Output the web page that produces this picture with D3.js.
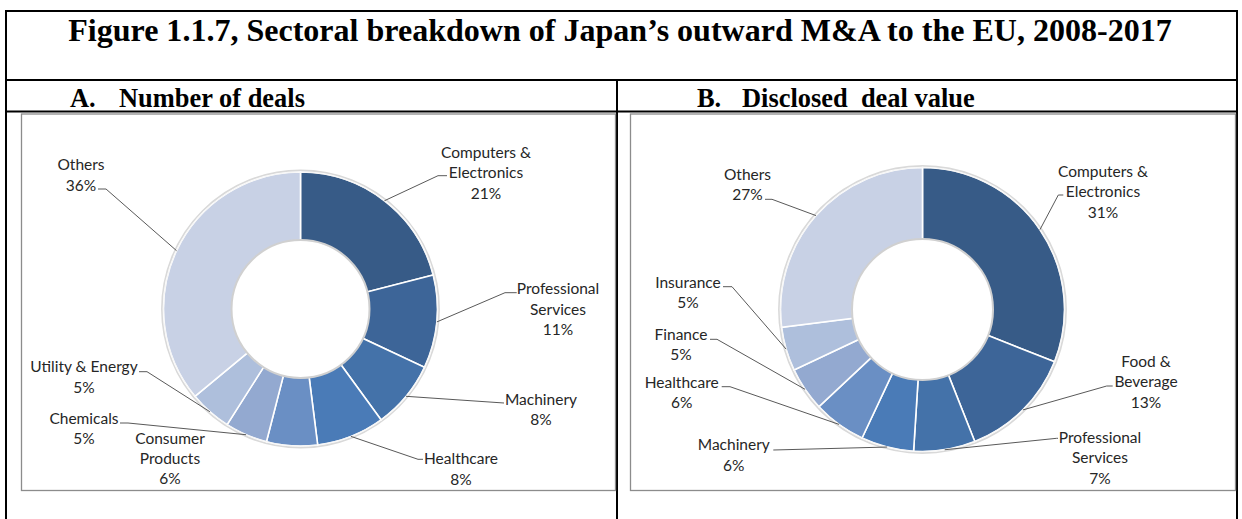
<!DOCTYPE html>
<html>
<head>
<meta charset="utf-8">
<script src="https://cdn.jsdelivr.net/npm/d3@7"></script>
<style>
  body { margin: 0; background: #fff; }
  svg { display: block; }
</style>
</head>
<body>
<div id="chart"></div>
<script>
// data
const categoriesA = ["Computers & Electronics", "Professional Services", "Machinery", "Healthcare",
  "Consumer Products", "Chemicals", "Utility & Energy", "Others"];
const valuesA = [21, 11, 8, 8, 6, 5, 5, 36];

const categoriesB = ["Computers & Electronics", "Food & Beverage", "Professional Services", "Machinery",
  "Healthcare", "Finance", "Insurance", "Others"];
const valuesB = [31, 13, 7, 6, 6, 5, 5, 27];

// one shade per slice position, dark to light
const palette = ["#375b87", "#3d6598", "#4472a9", "#4a7bb7", "#6a8fc4", "#93a9d0", "#aebfdc", "#c8d1e5"];

// label layout: line break text, label centre, elbow and end of leader line
const labelsA = {
  "Computers & Electronics": { lines: ["Computers &", "Electronics"], x: 486, y: 152.7, elbow: [438, 175.7], end: [447, 175.7] },
  "Professional Services": { lines: ["Professional", "Services"], x: 558, y: 289, elbow: [505, 292.7], end: [516.7, 292.7] },
  "Machinery": { lines: ["Machinery"], x: 541, y: 399.3, elbow: [504, 403], end: [504, 403] },
  "Healthcare": { lines: ["Healthcare"], x: 461, y: 459, elbow: [418, 459.3], end: [423, 459.3] },
  "Consumer Products": { lines: ["Consumer", "Products"], x: 170, y: 438.3, elbow: null },
  "Chemicals": { lines: ["Chemicals"], x: 84, y: 418.3, elbow: [128, 423], end: [120, 423] },
  "Utility & Energy": { lines: ["Utility & Energy"], x: 84, y: 367, elbow: [147, 371.7], end: [139, 371.7] },
  "Others": { lines: ["Others"], x: 81, y: 165, elbow: [106, 189], end: [98, 189] }
};
const labelsB = {
  "Computers & Electronics": { lines: ["Computers &", "Electronics"], x: 1103, y: 171.7, elbow: [1058.3, 195], end: [1063.3, 195] },
  "Food & Beverage": { lines: ["Food &", "Beverage"], x: 1146, y: 361.7, elbow: [1106.7, 386], end: [1112.7, 386] },
  "Professional Services": { lines: ["Professional", "Services"], x: 1100, y: 437.7, elbow: [1056.7, 438.3], end: [1058, 438.3] },
  "Machinery": { lines: ["Machinery"], x: 733.8, y: 445, elbow: [773.3, 450], end: [773.3, 450] },
  "Healthcare": { lines: ["Healthcare"], x: 681.7, y: 382.7, elbow: [730, 386.7], end: [721.7, 386.7] },
  "Finance": { lines: ["Finance"], x: 681, y: 334.3, elbow: [717, 339.3], end: [710, 339.3] },
  "Insurance": { lines: ["Insurance"], x: 688, y: 282.3, elbow: [732, 286.7], end: [723, 286.7] },
  "Others": { lines: ["Others"], x: 747.5, y: 174.3, elbow: [772, 199.3], end: [765, 199.3] }
};

const W = 1242, H = 519;
const svg = d3.select("#chart").append("svg").attr("width", W).attr("height", H);

// table grid
const black = svg.append("g").attr("stroke", "#000").attr("stroke-width", 2).attr("fill", "none");
black.append("line").attr("x1", 5).attr("x2", 1238).attr("y1", 11).attr("y2", 11);
black.append("line").attr("x1", 5).attr("x2", 1238).attr("y1", 80).attr("y2", 80);
black.append("line").attr("x1", 5).attr("x2", 1238).attr("y1", 111.5).attr("y2", 111.5);
black.append("line").attr("x1", 6).attr("x2", 6).attr("y1", 10).attr("y2", H);
black.append("line").attr("x1", 1237).attr("x2", 1237).attr("y1", 10).attr("y2", H);
black.append("line").attr("x1", 617).attr("x2", 617).attr("y1", 80).attr("y2", H);

// grey chart frames
svg.append("rect").attr("x", 21.5).attr("y", 114).attr("width", 594).attr("height", 376.5)
  .attr("fill", "none").attr("stroke", "#8c8c8c").attr("stroke-width", 1.3);
svg.append("rect").attr("x", 630.5).attr("y", 114).attr("width", 605).attr("height", 376.5)
  .attr("fill", "none").attr("stroke", "#8c8c8c").attr("stroke-width", 1.3);

// fit bold serif text to a measured width
function fitText(sel, target) {
  const w = sel.node().getComputedTextLength();
  const fs = parseFloat(sel.attr("font-size"));
  sel.attr("font-size", fs * target / w);
}

const serif = "'Liberation Serif', 'Times New Roman', serif";
const title = svg.append("text")
  .attr("x", 620).attr("y", 41)
  .attr("text-anchor", "middle")
  .attr("font-family", serif).attr("font-weight", "bold").attr("font-size", 28)
  .attr("fill", "#000")
  .text("Figure 1.1.7, Sectoral breakdown of Japan\u2019s outward M&A to the EU, 2008-2017");
fitText(title, 1104);

const subA = svg.append("text").attr("x", 119).attr("y", 106.5)
  .attr("font-family", serif).attr("font-weight", "bold").attr("font-size", 21)
  .text("Number of deals");
fitText(subA, 186);
const subSize = subA.attr("font-size");
svg.append("text").attr("x", 70).attr("y", 106.5)
  .attr("font-family", serif).attr("font-weight", "bold").attr("font-size", subSize).text("A.");
svg.append("text").attr("x", 697).attr("y", 106.5)
  .attr("font-family", serif).attr("font-weight", "bold").attr("font-size", subSize).text("B.");
svg.append("text").attr("x", 742).attr("y", 106.5).attr("xml:space", "preserve")
  .attr("font-family", serif).attr("font-weight", "bold").attr("font-size", subSize)
  .text("Disclosed  deal value");

function donut(cats, vals, labels, cx, cy, rOuter, rInner) {
  const g = svg.append("g").attr("transform", `translate(${cx},${cy})`);
  const pie = d3.pie().sort(null).value(d => d.v);
  const arcs = pie(cats.map((c, i) => ({ c, v: vals[i], i })));
  const arc = d3.arc().innerRadius(rInner).outerRadius(rOuter);

  // soft shadow round the ring
  g.append("circle").attr("r", rOuter + 1.2).attr("fill", "none")
    .attr("stroke", "#d9d9d9").attr("stroke-width", 2.5);

  g.selectAll("path.slice").data(arcs).enter().append("path")
    .attr("class", "slice")
    .attr("d", arc)
    .attr("fill", d => palette[d.data.i])
    .attr("stroke", "#fff").attr("stroke-width", 1.6);

  g.append("circle").attr("r", rInner + 0.5).attr("fill", "none")
    .attr("stroke", "#d0d0d0").attr("stroke-width", 2);
  g.append("circle").attr("r", rOuter).attr("fill", "none")
    .attr("stroke", "#f4f4f4").attr("stroke-width", 0.8);

  const font = "Lato, 'Open Sans', sans-serif";
  const lineH = 20.3;
  arcs.forEach(a => {
    const lab = labels[a.data.c];
    const mid = (a.startAngle + a.endAngle) / 2;
    const px = cx + Math.sin(mid) * rOuter, py = cy - Math.cos(mid) * rOuter;
    if (lab.elbow) {
      svg.append("polyline")
        .attr("points", [[px, py], lab.elbow, lab.end].map(p => p.join(",")).join(" "))
        .attr("fill", "none").attr("stroke", "#595959").attr("stroke-width", 1);
    }
    const lines = lab.lines.concat([a.data.v + "%"]);
    const t = svg.append("text")
      .attr("font-family", font).attr("font-size", 15.5).attr("fill", "#262626")
      .attr("text-anchor", "middle");
    lines.forEach((ln, k) => {
      t.append("tspan").attr("x", lab.x).attr("y", lab.y + k * lineH).attr("dy", "0.35em").text(ln);
    });
  });
}

donut(categoriesA, valuesA, labelsA, 300.5, 309, 137, 68.5);
donut(categoriesB, valuesB, labelsB, 922.5, 309.5, 142, 70);
</script>
</body>
</html>
